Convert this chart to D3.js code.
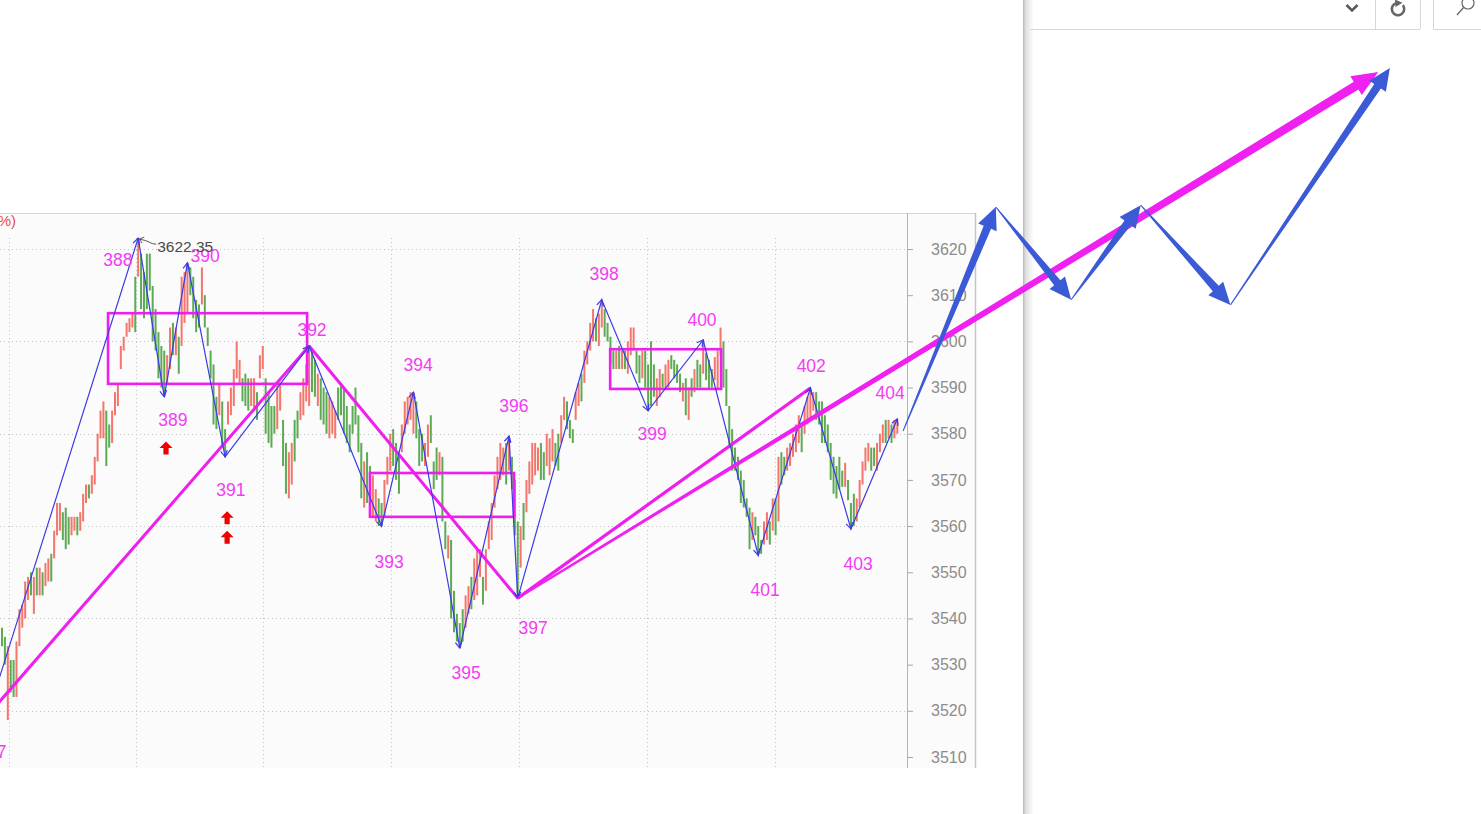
<!DOCTYPE html>
<html><head><meta charset="utf-8">
<script src="https://cdn.jsdelivr.net/npm/d3@7/dist/d3.min.js"></script>
<style>html,body{margin:0;padding:0;background:#fff;overflow:hidden}</style>
</head><body>
<svg id="c" width="1481" height="814"></svg>
<script>
// ---------------- DATA ----------------
const highs = [
3538,3536,3534,3531,3531,3535,3542,3543,3548,3549,
3550,3549,3551,3551,3550,3552,3553,3554,3559,3565,
3565,3563,3564,3562,3562,3562,3562,3563,3567,3569,
3569,3571,3575,3580,3585,3587,3585,3582,3585,3589,
3591,3599,3601,3604,3605,3606,3614,3622.35,3619,3615,
3619,3619,3612,3607,3602,3599,3598,3597,3603,3604,
3603,3601,3614,3615,3617,3616,3614,3609,3608,3616,
3610,3603,3598,3595,3588,3591,3587,3581,3587,3590,
3594,3600,3596,3592,3593,3592,3592,3592,3589,3597,
3599,3592,3589,3586,3586,3591,3591,3583,3578,3576,
3578,3583,3585,3589,3592,3595,3599,3598,3596,3593,
3592,3590,3589,3588,3587,3585,3590,3591,3590,3586,
3582,3586,3590,3584,3578,3574,3576,3573,3571,3568,
3566,3565,3570,3575,3580,3581,3578,3575,3582,3587,
3588,3589,3589,3587,3581,3580,3578,3582,3584,3574,
3577,3576,3575,3561,3558,3557,3546,3541,3539,3542,
3545,3547,3549,3553,3555,3555,3549,3555,3561,3565,
3571,3575,3578,3577,3578,3579.5,3575,3570,3561,3560,
3565,3570,3574,3578,3578,3577,3578,3576,3580,3579,
3581,3578,3580,3584,3588,3587,3583,3581,3589,3591,
3593,3598,3600,3604,3607,3605,3606,3609,3607,3604,
3601,3598,3598,3599,3598,3598,3600,3603,3603,3598,
3597,3598,3598,3595,3600,3595,3592,3594,3593,3595,
3596,3597,3596,3595,3593,3591,3592,3590,3592,3594,
3596,3595,3600.3,3597.5,3596,3594,3596.6,3598,3603,3600,
3594,3586,3581,3577,3575,3572,3570,3566,3564,3563,
3562,3560,3557,3561,3563,3561,3566,3566,3575,3576,
3575,3577,3578,3580,3582,3584,3582,3586,3588,3589.9,
3589,3589,3587,3587,3584,3582,3578,3575,3573,3575,
3572,3573.7,3570,3565,3567,3566,3570,3574,3577,3578,
3577,3577,3578,3580,3582,3583,3583,3582,3583,3583.2];
const lows = [
3534,3530,3518,3524,3523,3523,3534,3538,3540,3544,
3545,3541,3545,3545,3545,3547,3548,3548,3553,3558,
3559,3557,3555,3556,3558,3559,3558,3559,3561,3565,
3566,3567,3569,3574,3579,3579,3573,3577,3578,3584,
3586,3594,3598,3601,3602,3603,3602,3614,3607,3605,
3607,3611,3600,3598,3592,3590,3588,3591,3594,3597,
3597,3593,3599,3604,3606,3610,3605,3602,3603,3608,
3603,3599,3592,3582,3581,3584,3577,3575,3582,3584,
3586,3592,3591,3587,3586,3585,3586,3585,3583,3592,
3594,3580,3578,3577,3580,3581,3585,3573,3567,3566,
3569,3574,3579,3583,3584,3587,3586,3589,3588,3586,
3583,3582,3580,3579,3580,3579,3583,3584,3580,3578,
3576,3580,3582,3576,3566,3564,3565,3563,3562,3561,
3560,3560,3562,3569,3572,3573,3570,3567,3576,3580,
3582,3583,3580,3579,3573,3574,3573,3575,3578,3568,
3570,3571,3561,3555,3553,3540,3537,3535,3533.6,3535,
3538,3541,3542,3544,3545,3549,3543,3546,3555,3557,
3564,3568,3570,3571,3569,3572,3568,3558,3544.4,3551,
3557,3563,3567,3569,3571,3572,3570,3570,3573,3571,
3574,3573,3572,3578,3583,3581,3579,3578,3583,3586,
3587,3591,3595,3598,3600,3600,3599,3603,3601,3600,
3595,3594,3594,3594,3594,3594,3593,3597,3598,3593,
3591,3592,3590,3585,3586,3588,3586,3588,3590,3590,
3590,3594,3592,3591,3589,3587,3584,3583,3588,3589,
3590,3590,3593,3591.6,3589.5,3590,3591.6,3589.5,3597,3590,
3586,3577,3572,3572,3570,3565,3564,3562,3555,3557,
3558,3553.7,3554,3556,3557,3556,3559,3558,3561,3569,
3571,3572,3573,3575,3576,3578,3576,3580,3582,3583,
3585,3583,3582,3578,3578,3576,3570,3567,3566,3568,
3568.5,3568.5,3565.6,3559.4,3560,3561,3564,3569,3572,3574,
3572,3573,3572,3576,3578,3578,3579,3578,3579,3580];
// r = up bar (red), g = down bar (green)
const barDirs = (
"ggrggrrrrr"+"grgrgrrgrr"+"rgggrrgrrr"+"grrrrrggrr"+"rrrrrrgrgg"+
"gggggggrrg"+"rgrrrggggr"+"gggggrggrr"+"rrrgggrrgr"+"rggggrrggr"+
"rggrrrrggr"+"gggrrrgggg"+"gggggrggrr"+"ggrrrgggrr"+"rrrgggrrgg"+
"grggrggggg"+"rrgrrrgrrr"+"rrrrgrgggr"+"grrrrrggrr"+"rggrrgggrr"+
"grrrrgrrgg"+"ggrgrgrrrg"+"grggggrrgr"+"rggggrgrgr"+"ggrgggrrrg"+
"gggggggggr"+"gggrrgrgrg"+"grrrrrgrrr"+"rggggggggg"+"grgggrrrrr"+
"ggrrrgrgrr").split("");

const yTicks = [3510,3520,3530,3540,3550,3560,3570,3580,3590,3600,3610,3620];
const gridValues = [3520,3540,3560,3580,3600,3620];
const gridIdx = [2.4,46.3,90.1,134.3,178.5,222.6,266.8];

const pivotNames = ["387","388","389","390","391","392","393","394","395","396","397","398","399","400","401","402","403","404"];
const pivotIdx   = [-5,47,56,64,77,106,131,142,158,175,178,207,223,242,261,279,293,309];
const pivotVal   = [3519,3622.35,3588,3617,3575,3599,3560,3589,3533.6,3579.5,3544.4,3609,3585,3600.3,3553.7,3589.9,3559.4,3583.2];
const labelIdx   = [-3.5,40,59,70.1,79,107,133.6,143.6,160.2,176.7,183.3,207.8,224.4,241.6,263.4,279.3,295.5,306.5];
const labelVal   = [3511.1,3617.6,3583,3618.5,3567.8,3602.5,3552.2,3594.9,3528.2,3586,3537.9,3614.6,3579.9,3604.6,3546.2,3594.7,3551.8,3588.8];

const trendFrom = ["387","392","397"];
const trendTo   = ["392","397","402"];

const boxStart  = [36.6,127,209.9];
const boxEnd    = [105.3,176.7,248.2];
const boxTop    = [3606.1,3571.5,3598.3];
const boxBottom = [3590.8,3562,3589.7];

const signalIdx = [56.6,77.7,77.7];
const signalVal = [3576.9,3561.8,3557.6];

const peakText = "3622.35";

const projIdx = [311,343,369,393,424,479];
const projVal = [3580.6,3629.1,3609,3629.5,3607.9,3659.2];
const targetIdx = 475, targetVal = 3658.3;

// ---------------- DRAW ----------------
const W = 1481, H = 814;
const svg = d3.select("#c");
const FONT = "'Liberation Sans', Arial, sans-serif";
const MAG = "#ee1fee", MAGT = "#f43cf4", BLUE = "#3a3ae8", PBLUE = "#3b5ad6";

const x = d3.scaleLinear().domain([0,309]).range([2,897.3]);
const y = d3.scaleLinear().domain([3510,3620]).range([757,249]);

svg.append("rect").attr("width",W).attr("height",H).attr("fill","#fff");
svg.append("rect").attr("x",0).attr("y",213).attr("width",975).attr("height",555).attr("fill","#fbfbfb");
svg.append("line").attr("x1",0).attr("x2",975).attr("y1",213.5).attr("y2",213.5).attr("stroke","#d6d6d6");

// grid
svg.append("g").selectAll("line").data(gridValues).join("line")
  .attr("x1",0).attr("x2",907).attr("y1",d=>Math.round(y(d))+0.5).attr("y2",d=>Math.round(y(d))+0.5)
  .attr("stroke","#c4c4c4").attr("stroke-dasharray","1,3");
svg.append("g").selectAll("line").data(gridIdx).join("line")
  .attr("x1",d=>Math.round(x(d))+0.5).attr("x2",d=>Math.round(x(d))+0.5).attr("y1",238).attr("y2",768)
  .attr("stroke","#c4c4c4").attr("stroke-dasharray","1,3");

// axis lines
svg.append("line").attr("x1",907.5).attr("x2",907.5).attr("y1",213).attr("y2",768).attr("stroke","#b4b4b4");
svg.append("line").attr("x1",975.5).attr("x2",975.5).attr("y1",213).attr("y2",768).attr("stroke","#c4c4c4").attr("stroke-width",1.5);

const axis = d3.axisRight(y).tickValues(yTicks).tickSize(6).tickPadding(18).tickFormat(d3.format("d"));
const ga = svg.append("g").attr("transform","translate(907,0)").call(axis);
ga.select(".domain").remove();
ga.selectAll(".tick line").attr("stroke","#a8a8a8");
ga.selectAll(".tick text").attr("fill","#8c8c8c").style("font-size","16px").style("font-family",FONT);

// bars
svg.append("g").selectAll("line").data(highs).join("line")
  .attr("x1",(d,i)=>x(i)).attr("x2",(d,i)=>x(i))
  .attr("y1",d=>y(d)).attr("y2",(d,i)=>y(lows[i]))
  .attr("stroke",(d,i)=>barDirs[i]==="r"?"#f3756b":"#5caa54").attr("stroke-width",2);

// boxes
svg.append("g").selectAll("rect").data(boxStart).join("rect")
  .attr("x",(d,i)=>x(d)).attr("y",(d,i)=>y(boxTop[i]))
  .attr("width",(d,i)=>x(boxEnd[i])-x(d)).attr("height",(d,i)=>y(boxBottom[i])-y(boxTop[i]))
  .attr("fill","none").attr("stroke",MAG).attr("stroke-width",2.6);

// trend lines
const pv = n => { const k = pivotNames.indexOf(n); return [x(pivotIdx[k]), y(pivotVal[k])]; };
svg.append("g").selectAll("line").data(trendFrom).join("line")
  .attr("x1",d=>pv(d)[0]).attr("y1",d=>pv(d)[1])
  .attr("x2",(d,i)=>pv(trendTo[i])[0]).attr("y2",(d,i)=>pv(trendTo[i])[1])
  .attr("stroke",MAG).attr("stroke-width",(d,i)=>i===2?3.2:3);

// zigzag
const zz = pivotIdx.map((d,i)=>[x(d),y(pivotVal[i])]);
svg.append("path").attr("d",d3.line()(zz)).attr("fill","none").attr("stroke",BLUE).attr("stroke-width",1.2);
const heads = svg.append("g");
for (let i=1;i<zz.length;i++){
  const [x0,y0]=zz[i-1],[x1,y1]=zz[i];
  const a=Math.atan2(y1-y0,x1-x0), L=7, s=0.5;
  heads.append("path").attr("d",`M${x1-L*Math.cos(a-s)},${y1-L*Math.sin(a-s)}L${x1},${y1}L${x1-L*Math.cos(a+s)},${y1-L*Math.sin(a+s)}`)
    .attr("fill","none").attr("stroke",BLUE).attr("stroke-width",1.2);
}

// pivot labels
svg.append("g").selectAll("text").data(pivotNames).join("text")
  .attr("x",(d,i)=>x(labelIdx[i])).attr("y",(d,i)=>y(labelVal[i])).attr("dy","0.36em")
  .attr("text-anchor","middle").attr("fill",MAGT).style("font-size","17.5px").style("font-family",FONT)
  .text(d=>d);

// signal arrows
svg.append("g").selectAll("path").data(signalIdx).join("path")
  .attr("transform",(d,i)=>`translate(${x(d)},${y(signalVal[i])})`)
  .attr("d","M0,-6.5L6.5,0L2.6,0L2.6,6.5L-2.6,6.5L-2.6,0L-6.5,0Z").attr("fill","#f00000");

// peak annotation
{
  const px = x(47), py = y(3622.35);
  svg.append("path").attr("d",`M${px+1},${py+1}L${px+6},${py-1}M${px+1},${py+1}L${px+4},${py+5}M${px+1},${py+1}Q${px+8},${py+2} ${px+11},${py+4}T${px+18},${py+6}`)
    .attr("fill","none").attr("stroke","#555").attr("stroke-width",1);
  svg.append("text").attr("x",px+19).attr("y",py+8).attr("dy","0.35em").attr("fill","#4a4a4a")
    .style("font-size","15.5px").style("font-family",FONT).text(peakText);
}

// legend fragment at top-left
svg.append("text").attr("x",16).attr("y",221).attr("dy","0.35em").attr("text-anchor","end")
  .attr("fill","#e8504a").style("font-size","15px").style("font-family",FONT).text("(%)");

// right panel: shadow + toolbar
const defs = svg.append("defs");
const grad = defs.append("linearGradient").attr("id","sh").attr("x1",0).attr("x2",1).attr("y1",0).attr("y2",0);
grad.append("stop").attr("offset",0).attr("stop-color","#000").attr("stop-opacity",0.28);
grad.append("stop").attr("offset",0.25).attr("stop-color","#000").attr("stop-opacity",0.12);
grad.append("stop").attr("offset",1).attr("stop-color","#000").attr("stop-opacity",0);
svg.append("rect").attr("x",1023).attr("y",0).attr("width",11).attr("height",H).attr("fill","url(#sh)");
const tb = svg.append("g").attr("stroke","#d8d8d8").attr("fill","none");
tb.append("line").attr("x1",1030).attr("x2",1420).attr("y1",29.5).attr("y2",29.5);
tb.append("line").attr("x1",1375.5).attr("x2",1375.5).attr("y1",0).attr("y2",29);
tb.append("line").attr("x1",1420.5).attr("x2",1420.5).attr("y1",0).attr("y2",29);
tb.append("line").attr("x1",1433.5).attr("x2",1433.5).attr("y1",0).attr("y2",29);
tb.append("line").attr("x1",1433).attr("x2",1481).attr("y1",29.5).attr("y2",29.5);
svg.append("path").attr("d","M1346.5,5L1352,10.5L1357.5,5").attr("fill","none").attr("stroke","#5a5a5a").attr("stroke-width",2.6);
svg.append("path").attr("d",d3.arc()({innerRadius:6.2,outerRadius:6.2,startAngle:0.9,endAngle:2*Math.PI-0.35}))
  .attr("transform","translate(1398,9)").attr("fill","none").attr("stroke","#666").attr("stroke-width",2.6);
svg.append("path").attr("d","M1395,-0.5L1402.5,2.8L1395.5,7Z").attr("fill","#666");
svg.append("circle").attr("cx",1468).attr("cy",3).attr("r",6).attr("fill","none").attr("stroke","#666").attr("stroke-width",1.2);
svg.append("line").attr("x1",1463.5).attr("y1",7.5).attr("x2",1457).attr("y2",15).attr("stroke","#666").attr("stroke-width",1.3);

// projection arrows (tapered)
function taper(p0,p1,w0,w1,hl,hw){
  const dx=p1[0]-p0[0], dy=p1[1]-p0[1], L=Math.hypot(dx,dy);
  const ux=dx/L, uy=dy/L, nx=-uy, ny=ux;
  const bx=p1[0]-ux*hl, by=p1[1]-uy*hl;
  const P=[[p0[0]+nx*w0/2,p0[1]+ny*w0/2],[bx+nx*w1/2,by+ny*w1/2],[bx+nx*hw,by+ny*hw],[p1[0],p1[1]],
           [bx-nx*hw,by-ny*hw],[bx-nx*w1/2,by-ny*w1/2],[p0[0]-nx*w0/2,p0[1]-ny*w0/2]];
  return "M"+P.map(p=>p.join(",")).join("L")+"Z";
}
{
  const p0 = pv("397"), p1 = [x(targetIdx), y(targetVal)];
  svg.append("path").attr("d",taper(p0,p1,2,9,26,11)).attr("fill","#f020f0");
}
const proj = projIdx.map((d,i)=>[x(d),y(projVal[i])]);
for (let i=1;i<proj.length;i++){
  svg.append("path").attr("d",taper(proj[i-1],proj[i],1,8,22,10)).attr("fill",PBLUE);
}
</script>
</body></html>
